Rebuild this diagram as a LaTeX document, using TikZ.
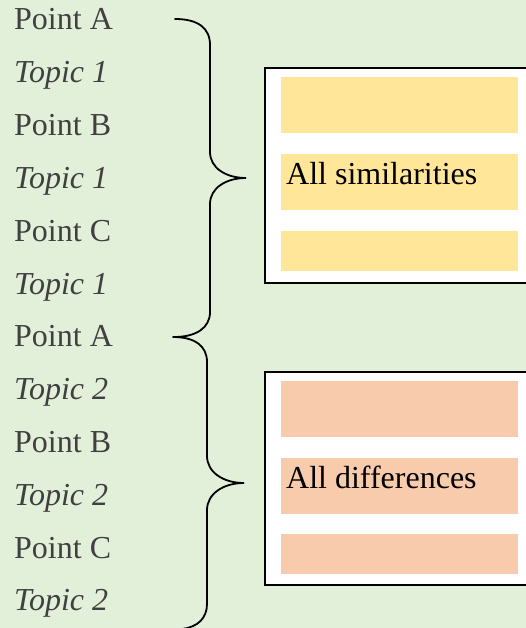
\documentclass[tikz,border=0pt]{standalone}
\usepackage{fontspec}
\setmainfont{Liberation Serif}
\usetikzlibrary{positioning, calc}

\definecolor{pagegreen}{HTML}{E2EFD9}
\definecolor{simyellow}{HTML}{FFE699}
\definecolor{difforange}{HTML}{F7CBAC}
\definecolor{pointgray}{HTML}{404040}

\begin{document}
\begin{tikzpicture}[
    x=1pt, y=-1pt,
    point/.style={anchor=base west, inner sep=0pt, text=pointgray, font=\fontsize{32}{36}\selectfont},
    topic/.style={point, font=\fontsize{32}{36}\selectfont\itshape},
    frame/.style={rectangle, draw=black, line width=1.6pt, fill=white, anchor=north west, minimum width=280pt},
    bar/.style={rectangle, anchor=north west, minimum width=237pt, inner sep=0pt},
    boxtext/.style={anchor=base west, inner sep=0pt, font=\fontsize{32}{36}\selectfont},
    brace/.style={line width=1.8pt, line cap=round}
]

    % Background
    \fill[pagegreen] (0,0) rectangle (526,628);
    \useasboundingbox (0,0) rectangle (526,628);

    % Points and topics
    \foreach \lbl/\sty [count=\k from 0] in {Point A/point, Topic 1/topic, Point B/point, Topic 1/topic, Point C/point, Topic 1/topic,
                                             Point A/point, Topic 2/topic, Point B/point, Topic 2/topic, Point C/point, Topic 2/topic} {
        \node[\sty] (p\k) at (14, 30+52.8*\k) {\lbl};
    }

    % Similarities box
    \begin{scope}
        \clip (0,0) rectangle (526,628);
        \node[frame, minimum height=215pt] (sim) at (264,67) {};
        \node[frame, minimum height=213pt] (diff) at (264,371) {};
    \end{scope}
    \node[bar, fill=simyellow, minimum height=56pt] (sim1) at (281,77) {};
    \node[bar, fill=simyellow, minimum height=56pt] (sim2) at (281,154) {};
    \node[bar, fill=simyellow, minimum height=40pt] (sim3) at (281,231) {};
    \node[boxtext] (simtxt) at ($(sim2.west)+(5,2)$) {All similarities};

    % Differences box
    \node[bar, fill=difforange, minimum height=56pt] (diff1) at (281,381) {};
    \node[bar, fill=difforange, minimum height=56pt] (diff2) at (281,458) {};
    \node[bar, fill=difforange, minimum height=40pt] (diff3) at (281,534) {};
    \node[boxtext] (difftxt) at ($(diff2.west)+(5,2)$) {All differences};

    % Braces
    \coordinate (b1top) at (175,19);
    \coordinate (b1tip) at (246,178);
    \coordinate (b1bot) at (174,337);
    \coordinate (b2top) at (173,337);
    \coordinate (b2tip) at (244,483);
    \coordinate (b2bot) at (182,629);

    \draw[brace] (b1top) .. controls (198,19) and (210,28) .. (210,45) -- (210,152)
        .. controls (210,168) and (226,178) .. (b1tip)
        .. controls (226,178) and (210,188) .. (210,204) -- (210,312)
        .. controls (210,328) and (196,337) .. (b1bot);
    \draw[brace] (b2top) .. controls (195,337) and (207,346) .. (207,362) -- (207,456)
        .. controls (207,472) and (223,483) .. (b2tip)
        .. controls (223,483) and (207,494) .. (207,510) -- (207,604)
        .. controls (207,618) and (198,627) .. (b2bot);

\end{tikzpicture}
\end{document}
